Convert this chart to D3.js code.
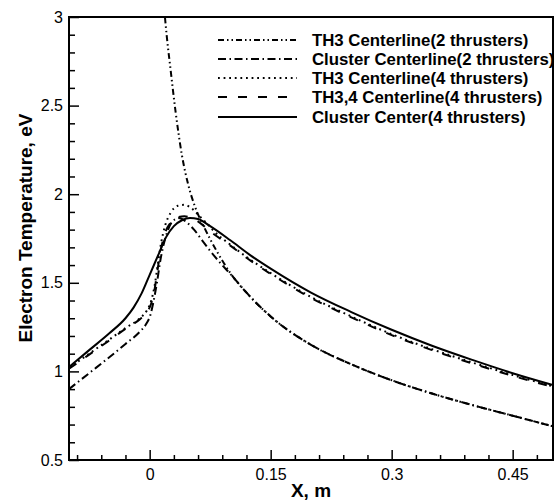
<!DOCTYPE html>
<html>
<head>
<meta charset="utf-8">
<script src="https://cdn.jsdelivr.net/npm/d3@7"></script>
<style>
  body { margin: 0; background: #fff; }
</style>
</head>
<body>
<div id="chart"></div>
<script>

// ---- data --------------------------------------------------------------------

const legendLabels = [
  'TH3 Centerline(2 thrusters)',
  'Cluster Centerline(2 thrusters)',
  'TH3 Centerline(4 thrusters)',
  'TH3,4 Centerline(4 thrusters)',
  'Cluster Center(4 thrusters)'
];

const xTicks = [0, 0.15, 0.3, 0.45];
const xTickLabels = ['0', '0.15', '0.3', '0.45'];
const yTicks = [0.5, 1, 1.5, 2, 2.5, 3];
const yTickLabels = ['0.5', '1', '1.5', '2', '2.5', '3'];

// [x (m), Te (eV)]
const th3TwoThr = [
  [0.017, 3.10], [0.021, 2.90], [0.026, 2.70], [0.032, 2.47], [0.04, 2.22],
  [0.048, 2.05], [0.057, 1.92], [0.069, 1.80], [0.083, 1.68], [0.1, 1.555],
  [0.125, 1.42], [0.15, 1.31], [0.2, 1.15], [0.25, 1.04], [0.3, 0.95],
  [0.35, 0.875], [0.4, 0.81], [0.45, 0.75], [0.5, 0.69]
];

const clusterTwoThr = [
  [-0.1, 0.90], [-0.075, 0.99], [-0.05, 1.08], [-0.03, 1.155], [-0.012, 1.225],
  [-0.004, 1.27], [0.001, 1.32], [0.005, 1.40], [0.009, 1.50], [0.013, 1.62],
  [0.017, 1.71], [0.022, 1.79], [0.028, 1.845], [0.036, 1.865], [0.045, 1.845],
  [0.055, 1.80], [0.065, 1.74], [0.075, 1.68], [0.087, 1.615], [0.1, 1.55],
  [0.125, 1.42], [0.15, 1.31], [0.2, 1.15], [0.25, 1.04], [0.3, 0.95],
  [0.35, 0.875], [0.4, 0.81], [0.45, 0.75], [0.5, 0.69]
];

const th3FourThr = [
  [-0.1, 1.02], [-0.075, 1.10], [-0.05, 1.18], [-0.03, 1.245], [-0.012, 1.30],
  [-0.004, 1.34], [0.002, 1.40], [0.006, 1.48], [0.01, 1.60], [0.014, 1.72],
  [0.019, 1.82], [0.026, 1.895], [0.035, 1.935], [0.043, 1.94], [0.052, 1.92],
  [0.062, 1.875], [0.07, 1.84], [0.08, 1.79], [0.1, 1.715], [0.125, 1.63],
  [0.15, 1.555], [0.2, 1.42], [0.25, 1.31], [0.3, 1.21], [0.35, 1.125],
  [0.4, 1.05], [0.45, 0.98], [0.5, 0.915]
];

const th34FourThr = [
  [-0.1, 1.015], [-0.075, 1.095], [-0.05, 1.175], [-0.03, 1.24], [-0.012, 1.295],
  [-0.004, 1.33], [0.002, 1.385], [0.006, 1.46], [0.01, 1.58], [0.014, 1.69],
  [0.019, 1.78], [0.026, 1.84], [0.035, 1.87], [0.043, 1.875], [0.052, 1.865],
  [0.062, 1.84], [0.075, 1.79], [0.1, 1.71], [0.125, 1.625], [0.15, 1.55],
  [0.2, 1.415], [0.25, 1.305], [0.3, 1.205], [0.35, 1.12], [0.4, 1.045],
  [0.45, 0.975], [0.5, 0.912]
];

const clusterFourThr = [
  [-0.1, 1.025], [-0.075, 1.12], [-0.05, 1.215], [-0.03, 1.30], [-0.02, 1.36],
  [-0.01, 1.44], [0, 1.545], [0.01, 1.65], [0.02, 1.755], [0.03, 1.82],
  [0.04, 1.853], [0.05, 1.866], [0.06, 1.86], [0.075, 1.82], [0.1, 1.74],
  [0.125, 1.655], [0.15, 1.58], [0.2, 1.445], [0.25, 1.335], [0.3, 1.235],
  [0.35, 1.145], [0.4, 1.065], [0.45, 0.99], [0.5, 0.923]
];

const seriesData = [th3TwoThr, clusterTwoThr, th3FourThr, th34FourThr, clusterFourThr];
const seriesDash = ['6,3,1.5,3,1.5,3', '8,3.5,1.5,3.5', '1.8,3.8', '9,11', null];

// ---- layout --------------------------------------------------------------------

const width = 555, height = 502;
const margin = { top: 17, right: 2, bottom: 42, left: 69 };
const font = '"Liberation Sans", Arial, Helvetica, sans-serif';

const svg = d3.select('#chart').append('svg')
  .attr('width', width)
  .attr('height', height)
  .attr('viewBox', [0, 0, width, height]);

const x = d3.scaleLinear().domain([-0.1, 0.5]).range([margin.left, width - margin.right]);
const y = d3.scaleLinear().domain([0.5, 3]).range([height - margin.bottom, margin.top]);

svg.append('defs').append('clipPath').attr('id', 'plot-clip')
  .append('rect')
  .attr('x', margin.left).attr('y', margin.top)
  .attr('width', x.range()[1] - margin.left)
  .attr('height', y.range()[0] - margin.top);

// ---- axes ----------------------------------------------------------------------

const xMinor = d3.range(-0.09, 0.5, 0.03).filter(v => !xTicks.some(t => Math.abs(t - v) < 1e-6));
const yMinor = d3.range(0.6, 3, 0.1).filter(v => !yTicks.some(t => Math.abs(t - v) < 1e-6));

const gx = svg.append('g').attr('transform', `translate(0,${y.range()[0]})`);
gx.call(d3.axisBottom(x).tickValues(xMinor).tickSize(-5).tickFormat(''));
gx.call(g => g.select('.domain').remove());
const gx2 = svg.append('g').attr('transform', `translate(0,${y.range()[0]})`);
gx2.call(d3.axisBottom(x).tickValues(xTicks).tickSize(-10).tickPadding(9)
  .tickFormat((d, i) => xTickLabels[i]));
gx2.call(g => g.select('.domain').remove());

const gy = svg.append('g').attr('transform', `translate(${margin.left},0)`);
gy.call(d3.axisLeft(y).tickValues(yMinor).tickSize(-6).tickFormat(''));
gy.call(g => g.select('.domain').remove());
const gy2 = svg.append('g').attr('transform', `translate(${margin.left},0)`);
gy2.call(d3.axisLeft(y).tickValues(yTicks).tickSize(-10).tickPadding(6)
  .tickFormat((d, i) => yTickLabels[i]));
gy2.call(g => g.select('.domain').remove());

svg.selectAll('.tick line').attr('stroke', '#000').attr('stroke-width', 1.5);
svg.selectAll('.tick text').attr('font-family', font).attr('font-size', 16).attr('fill', '#000');

// frame
svg.append('rect')
  .attr('x', margin.left).attr('y', margin.top)
  .attr('width', x.range()[1] - margin.left)
  .attr('height', y.range()[0] - margin.top)
  .attr('fill', 'none').attr('stroke', '#000').attr('stroke-width', 2);

// axis titles
svg.append('text')
  .attr('x', (x.range()[0] + x.range()[1]) / 2).attr('y', 497)
  .attr('text-anchor', 'middle')
  .attr('font-family', font).attr('font-weight', 'bold').attr('font-size', 19)
  .text('X, m');

svg.append('text')
  .attr('transform', 'translate(32,228) rotate(-90)')
  .attr('text-anchor', 'middle')
  .attr('font-family', font).attr('font-weight', 'bold').attr('font-size', 19)
  .text('Electron Temperature, eV');

// ---- curves --------------------------------------------------------------------

const line = d3.line().x(d => x(d[0])).y(d => y(d[1])).curve(d3.curveMonotoneX);

svg.append('g').attr('clip-path', 'url(#plot-clip)')
  .selectAll('path')
  .data(seriesData)
  .join('path')
  .attr('d', line)
  .attr('fill', 'none')
  .attr('stroke', '#000')
  .attr('stroke-width', 2)
  .attr('stroke-dasharray', (d, i) => seriesDash[i]);

// ---- legend --------------------------------------------------------------------

const rowY = [40, 59, 78, 97, 117];
const legend = svg.append('g');
legendLabels.forEach((label, i) => {
  legend.append('line')
    .attr('x1', 218).attr('x2', 297)
    .attr('y1', rowY[i]).attr('y2', rowY[i])
    .attr('stroke', '#000').attr('stroke-width', 2)
    .attr('stroke-dasharray', seriesDash[i]);
  legend.append('text')
    .attr('x', 312).attr('y', rowY[i]).attr('dy', '0.36em')
    .attr('font-family', font).attr('font-weight', 'bold').attr('font-size', 16.8)
    .text(label);
});

</script>
</body>
</html>
